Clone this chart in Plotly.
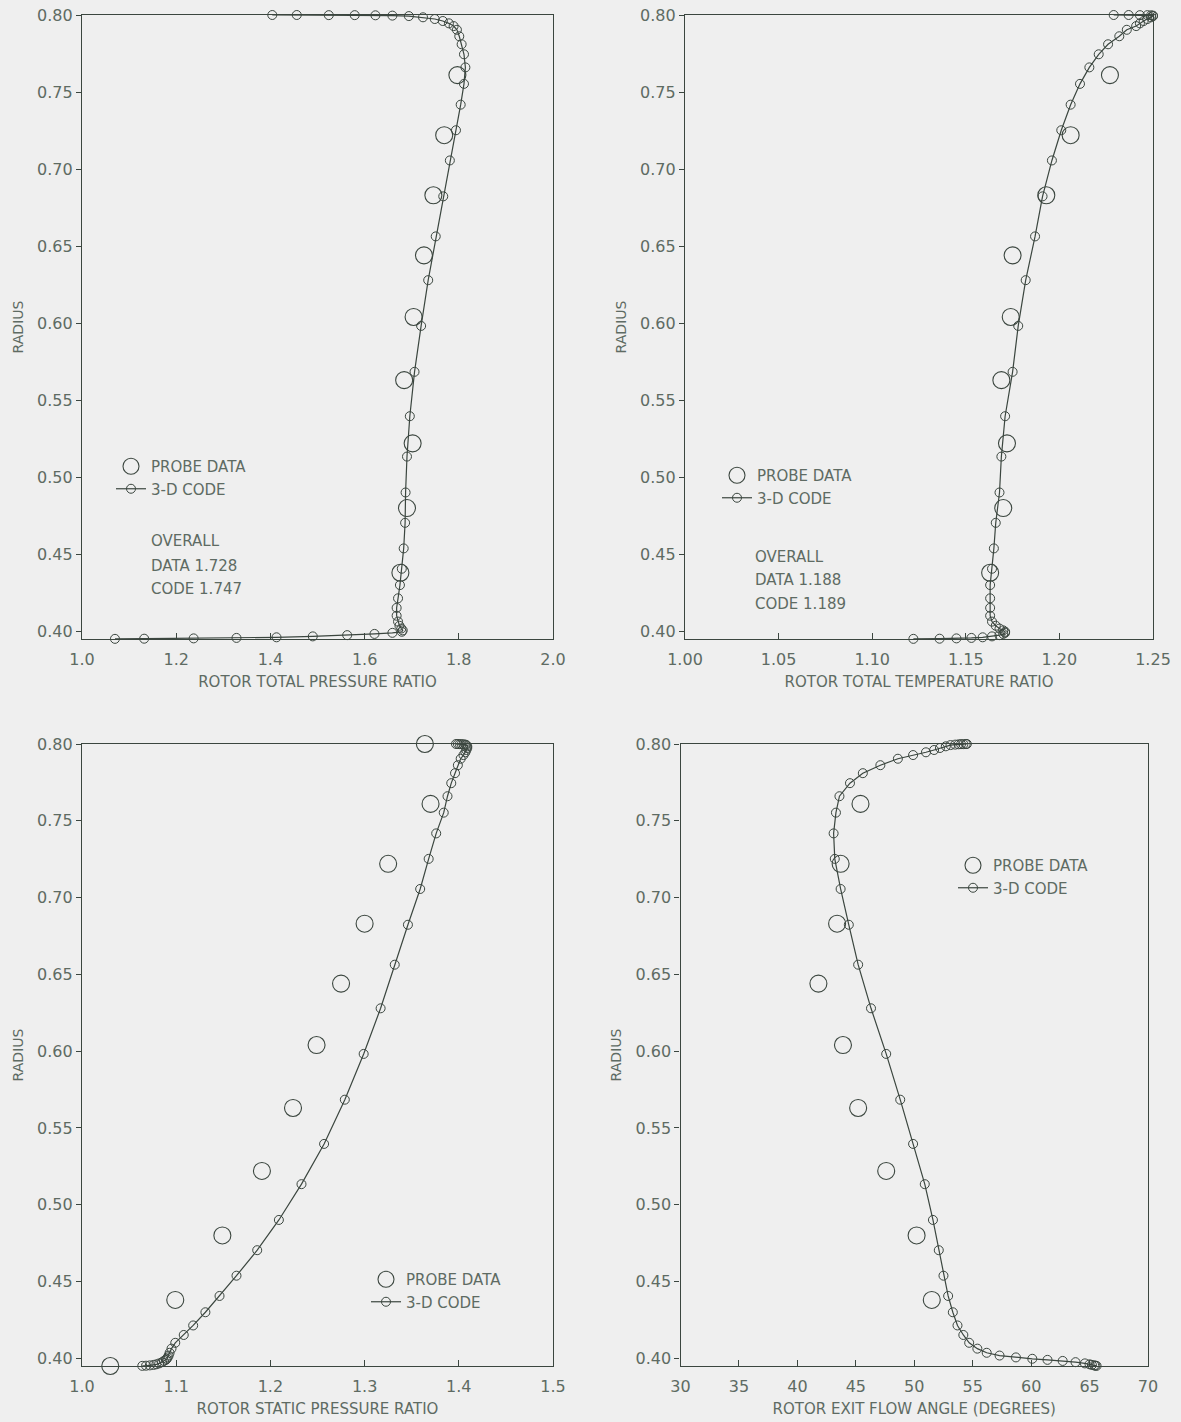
import plotly.graph_objects as go
from plotly.subplots import make_subplots

# ---------------- data ----------------
# radial stations of the 3-D code (shared by all panels, tip -> hub)
code_radius = [0.8000, 0.8000, 0.7999, 0.7999, 0.7998, 0.7996, 0.7993,
               0.7985, 0.7974, 0.7961, 0.7946, 0.7928, 0.7904, 0.7862, 0.7810,
               0.7745, 0.7660, 0.7553, 0.7418, 0.7252, 0.7056, 0.6823, 0.6563,
               0.6279, 0.5982, 0.5684, 0.5396, 0.5134, 0.4901, 0.4704, 0.4538,
               0.4406, 0.4300, 0.4214, 0.4152, 0.4101, 0.4063, 0.4036, 0.4018,
               0.4006, 0.3997, 0.3990, 0.3983, 0.3975, 0.3967, 0.3961, 0.3957,
               0.3954, 0.3952, 0.3951]

code_total_pressure = [1.404, 1.456, 1.524, 1.579, 1.623, 1.659, 1.694,
                       1.724, 1.749, 1.766, 1.779, 1.789, 1.796, 1.801, 1.806,
                       1.811, 1.814, 1.811, 1.804, 1.794, 1.781, 1.767, 1.751,
                       1.735, 1.720, 1.706, 1.696, 1.690, 1.687, 1.686, 1.683,
                       1.679, 1.675, 1.671, 1.668, 1.668, 1.671, 1.674, 1.678,
                       1.681, 1.679, 1.659, 1.621, 1.563, 1.490, 1.413, 1.328,
                       1.237, 1.132, 1.070]

code_total_temperature = [1.229, 1.237, 1.243, 1.247, 1.249, 1.250, 1.250,
                          1.249, 1.247, 1.245, 1.243, 1.241, 1.236, 1.232, 1.226,
                          1.221, 1.216, 1.211, 1.206, 1.201, 1.196, 1.191, 1.187,
                          1.182, 1.178, 1.175, 1.171, 1.169, 1.168, 1.166, 1.165,
                          1.164, 1.163, 1.163, 1.163, 1.163, 1.164, 1.166, 1.168,
                          1.170, 1.171, 1.171, 1.170, 1.168, 1.164, 1.159, 1.153,
                          1.145, 1.136, 1.122]

code_static_pressure = [1.397, 1.399, 1.401, 1.403, 1.405, 1.407, 1.408,
                        1.409, 1.409, 1.408, 1.407, 1.405, 1.402, 1.399, 1.396,
                        1.392, 1.388, 1.384, 1.376, 1.368, 1.359, 1.346, 1.332,
                        1.317, 1.299, 1.279, 1.257, 1.233, 1.209, 1.186, 1.164,
                        1.146, 1.131, 1.118, 1.108, 1.099, 1.095, 1.093, 1.092,
                        1.091, 1.090, 1.089, 1.087, 1.085, 1.082, 1.079, 1.076,
                        1.072, 1.068, 1.064]

code_flow_angle = [54.5, 54.4, 54.2, 54.0, 53.8, 53.5, 53.1,
                   52.7, 52.2, 51.7, 51.0, 49.9, 48.6, 47.1, 45.6,
                   44.5, 43.6, 43.3, 43.1, 43.2, 43.7, 44.4, 45.2,
                   46.3, 47.6, 48.8, 49.9, 50.9, 51.6, 52.1, 52.5,
                   52.9, 53.3, 53.7, 54.2, 54.7, 55.4, 56.2, 57.3,
                   58.7, 60.1, 61.4, 62.7, 63.8, 64.6, 65.0, 65.2,
                   65.4, 65.5, 65.6]

# probe data
probe_radius = [0.761, 0.722, 0.683, 0.644, 0.604, 0.563, 0.522, 0.480, 0.438]
probe_total_pressure = [1.797, 1.769, 1.746, 1.726, 1.704, 1.684, 1.702, 1.690, 1.676]
probe_total_temperature = [1.227, 1.206, 1.193, 1.175, 1.174, 1.169, 1.172, 1.170, 1.163]
probe_flow_angle = [45.4, 43.7, 43.4, 41.8, 43.9, 45.2, 47.6, 50.2, 51.5]

probe_static_radius = [0.800, 0.761, 0.722, 0.683, 0.644, 0.604, 0.563, 0.522, 0.480, 0.438, 0.395]
probe_static_pressure = [1.364, 1.370, 1.325, 1.300, 1.275, 1.249, 1.224, 1.191, 1.149, 1.099, 1.030]

x_titles = ["ROTOR TOTAL PRESSURE RATIO", "ROTOR TOTAL TEMPERATURE RATIO",
            "ROTOR STATIC PRESSURE RATIO", "ROTOR EXIT FLOW ANGLE (DEGREES)"]
overall_pressure = ["OVERALL", "DATA 1.728", "CODE 1.747"]
overall_temperature = ["OVERALL", "DATA 1.188", "CODE 1.189"]

# ---------------- style ----------------
W, H = 1181, 1422
BG = "#efefef"
INK = "#3b463f"
TXT = "#5e6b63"
FONT = "DejaVu Sans"

def px_x(p):
    return p / W

def px_y(p):
    return 1 - p / H

fig = make_subplots(rows=2, cols=2)

panels = [
    (1, 1, probe_radius, probe_total_pressure, code_total_pressure, "legend"),
    (1, 2, probe_radius, probe_total_temperature, code_total_temperature, "legend2"),
    (2, 1, probe_static_radius, probe_static_pressure, code_static_pressure, "legend3"),
    (2, 2, probe_radius, probe_flow_angle, code_flow_angle, "legend4"),
]

for r, c, pr, px, cx, lg in panels:
    fig.add_trace(go.Scatter(
        x=px, y=pr, mode="markers", name="PROBE DATA", legend=lg,
        marker=dict(symbol="circle-open", size=17, color=INK, line=dict(width=1.1)),
        cliponaxis=False, showlegend=True), row=r, col=c)
    fig.add_trace(go.Scatter(
        x=cx, y=code_radius, mode="lines+markers", name="3-D CODE", legend=lg,
        line=dict(color=INK, width=1.2),
        marker=dict(symbol="circle-open", size=9, color=INK, line=dict(width=1.0)),
        cliponaxis=False, showlegend=True), row=r, col=c)

# domains (pixel-derived)
domains = {
    (1, 1): ([82, 553], [15, 639]),
    (1, 2): ([685, 1153], [15, 639]),
    (2, 1): ([82, 553], [744, 1366]),
    (2, 2): ([680.5, 1148], [744, 1366]),
}
xranges = {(1, 1): [1.0, 2.0], (1, 2): [1.0, 1.25], (2, 1): [1.0, 1.5], (2, 2): [30, 70]}
xdticks = {(1, 1): 0.2, (1, 2): 0.05, (2, 1): 0.1, (2, 2): 5}
xfmts = {(1, 1): ".1f", (1, 2): ".2f", (2, 1): ".1f", (2, 2): "d"}
titles = {(1, 1): x_titles[0], (1, 2): x_titles[1], (2, 1): x_titles[2], (2, 2): x_titles[3]}

for (r, c), (dx, dy) in domains.items():
    fig.update_xaxes(
        domain=[px_x(dx[0]), px_x(dx[1])], range=xranges[(r, c)],
        tick0=xranges[(r, c)][0], dtick=xdticks[(r, c)], tickformat=xfmts[(r, c)],
        ticks="inside", ticklen=6, tickcolor=INK, tickwidth=1,
        showline=True, linecolor=INK, linewidth=1.3, mirror=True,
        showgrid=False, zeroline=False, ticklabelstandoff=6, automargin=False,
        tickfont=dict(family=FONT, size=16, color=TXT),
        title=dict(text=titles[(r, c)], standoff=8,
                   font=dict(family=FONT, size=15, color=TXT)),
        row=r, col=c)
    fig.update_yaxes(
        domain=[px_y(dy[1]), px_y(dy[0])], range=[0.395, 0.80],
        tick0=0.40, dtick=0.05, tickformat=".2f",
        ticks="outside", ticklen=5, tickcolor=INK, tickwidth=1,
        showline=True, linecolor=INK, linewidth=1.3, mirror=True,
        showgrid=False, zeroline=False, automargin=False,
        tickfont=dict(family=FONT, size=16, color=TXT),
        title=dict(text="RADIUS", standoff=10,
                   font=dict(family=FONT, size=14, color=TXT)),
        row=r, col=c)

leg_common = dict(bgcolor="rgba(0,0,0,0)", borderwidth=0, xanchor="left", yanchor="top",
                  font=dict(family=FONT, size=15, color=TXT), itemwidth=30,
                  tracegroupgap=0)
legend_pos = {"legend": (111, 450), "legend2": (717, 459),
              "legend3": (366, 1263), "legend4": (953, 849)}
layout_legends = {}
for k, (lx, ly) in legend_pos.items():
    layout_legends[k] = dict(leg_common, x=px_x(lx), y=px_y(ly))

annotations = []
for txt, yy in zip(overall_pressure, [541, 566, 589]):
    annotations.append(dict(text=txt, x=px_x(149), y=px_y(yy), xref="paper", yref="paper",
                            xanchor="left", yanchor="middle", showarrow=False,
                            font=dict(family=FONT, size=15, color=TXT)))
for txt, yy in zip(overall_temperature, [557, 580, 604]):
    annotations.append(dict(text=txt, x=px_x(753), y=px_y(yy), xref="paper", yref="paper",
                            xanchor="left", yanchor="middle", showarrow=False,
                            font=dict(family=FONT, size=15, color=TXT)))

fig.update_layout(
    width=W, height=H, margin=dict(l=0, r=0, t=0, b=0, autoexpand=False),
    paper_bgcolor=BG, plot_bgcolor=BG,
    font=dict(family=FONT, size=15, color=TXT),
    annotations=annotations,
    **layout_legends,
)

fig.write_html("out.html", config={"displayModeBar": False},
               post_script="document.body.style.margin='0';")
